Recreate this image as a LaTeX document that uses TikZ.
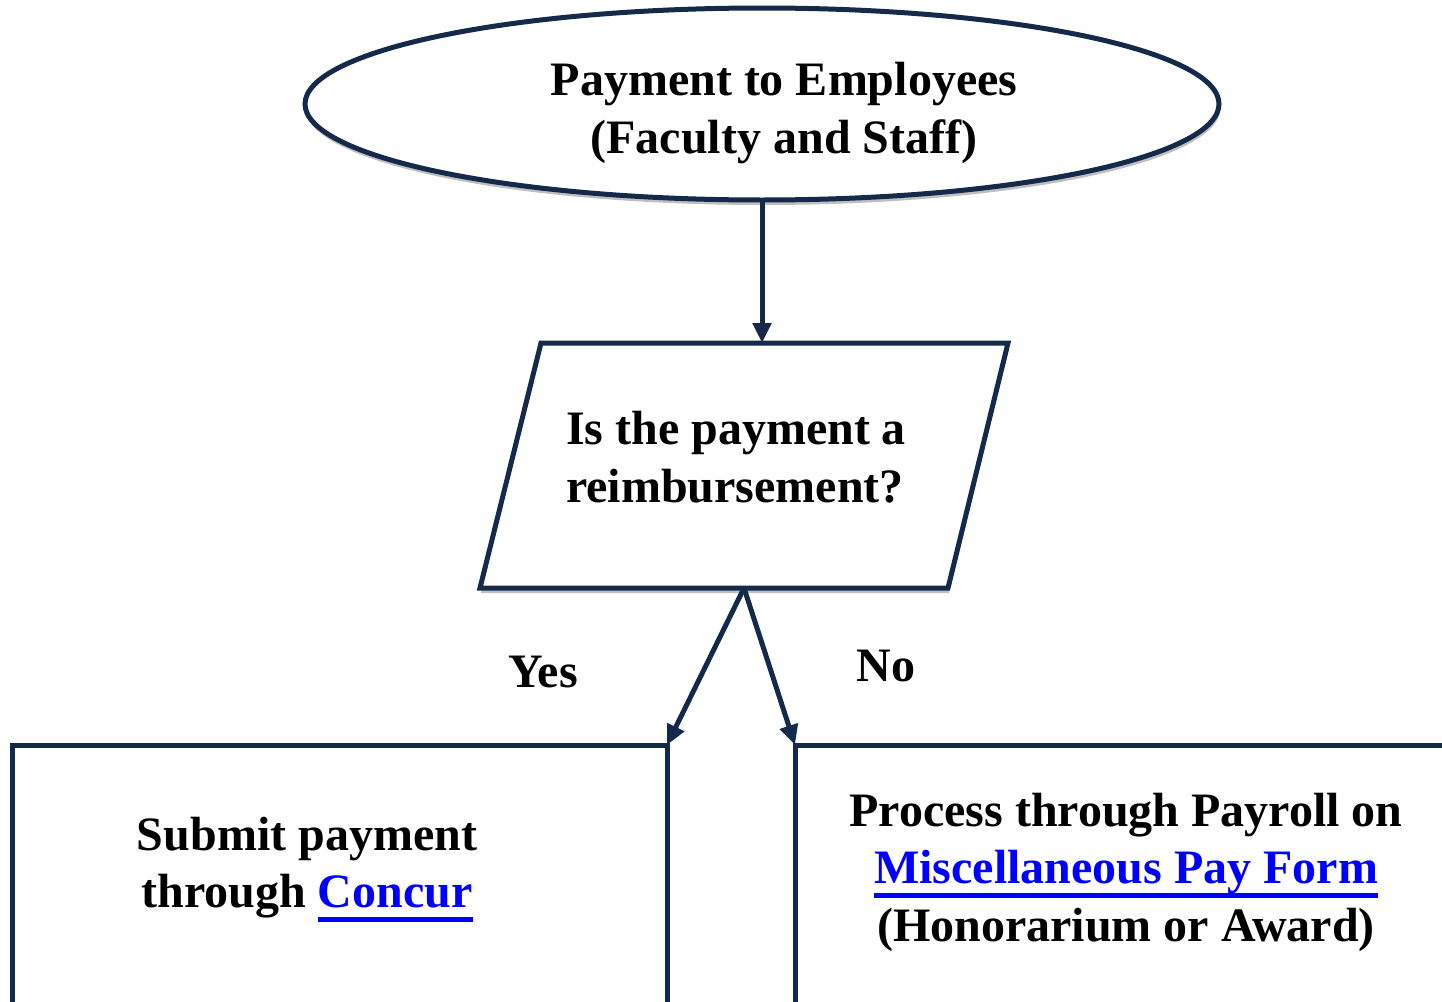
\documentclass[tikz,border=0pt]{standalone}
\usepackage{fontspec}
\setmainfont{Liberation Serif}
\usetikzlibrary{shapes.geometric,arrows.meta,shadows}
\definecolor{navy}{HTML}{15294B}
\definecolor{linkblue}{HTML}{0000FF}
\newcommand\lnk[1]{\textcolor{linkblue}{\setbox0\hbox{#1}\rlap{\rule[-14pt]{\wd0}{4.5pt}}\box0}}
\begin{document}
\begin{tikzpicture}[x=1pt,y=-1pt,
  every node/.style={font=\fontsize{48}{57.5}\selectfont\bfseries, inner sep=0pt, outer sep=0pt},
  shape line/.style={draw=navy, line width=5pt, fill=white,
     drop shadow={shadow xshift=1pt, shadow yshift=-5pt, opacity=0.25, fill=black}},
  conn/.style={draw=navy, line width=5pt, -{Triangle[length=20pt,width=18pt]}},
  txt/.style={align=center, text=black}]
\useasboundingbox (0,0) rectangle (1442,1001);
\clip (0,0) rectangle (1442,1001);
% start ellipse
\node[ellipse, shape line, minimum width=914pt, minimum height=192pt] (start) at (762,104) {};
\node[txt] (starttext) at (784,113) {Payment to Employees\\(Faculty and Staff)};
% decision parallelogram
\path[shape line] (541,343) -- (1008,343) -- (948,588) -- (480,588) -- cycle;
\coordinate (dtop) at (762,343);
\coordinate (dbot) at (744,588);
\node[align=left] (decision) at (736,457) {Is the payment a\\reimbursement?};
% boxes
\node[shape line, rectangle, minimum width=655pt, minimum height=330pt, anchor=north west] (lbox) at (12,745) {};
\node[shape line, rectangle, minimum width=665pt, minimum height=330pt, anchor=north west] (rbox) at (795,745) {};
\node[txt] (ltext) at (307,869.5) {Submit payment\\through \lnk{Concur}};
\node[txt] (rtext) at (1126,872) {Process through Payroll on\\\lnk{Miscellaneous Pay Form}\\(Honorarium or Award)};
% connectors
\draw[conn] (start.south) -- (dtop);
\draw[conn] (dbot) -- (lbox.north east);
\draw[conn] (dbot) -- (rbox.north west);
\node (yes) at (543,672) {Yes};
\node (no) at (886,666) {No};
\end{tikzpicture}
\end{document}
